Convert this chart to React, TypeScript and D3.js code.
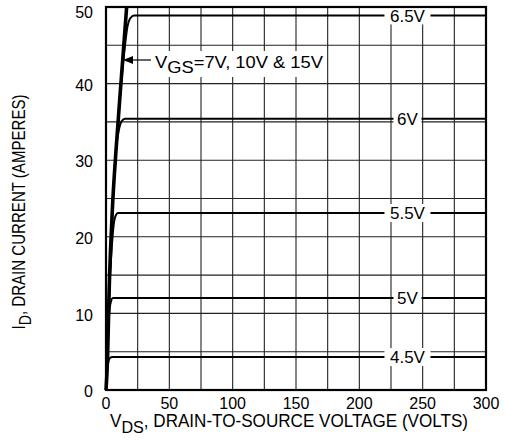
import React from "react";
import * as d3 from "d3";

// Axis ticks
const xTicks = [0, 50, 100, 150, 200, 250, 300];
const yTicks = [0, 10, 20, 30, 40, 50];
const xGrid = [25, 50, 75, 100, 125, 150, 175, 200, 225, 250, 275];
const yGrid = [5, 10, 15, 20, 25, 30, 35, 40, 45];

// Gate-voltage curves: V_DS (volts) and I_D (amperes)
const gateLabels = ["6.5V", "6V", "5.5V", "5V", "4.5V"];
const vds65 = [0, 2.5, 5, 8, 12, 15, 17, 19, 22, 300];
const id65 = [0, 13, 23.5, 31.5, 40, 45, 47.5, 48.5, 48.9, 48.9];
const vds6 = [0, 2.5, 5, 7.7, 10, 12.4, 15, 300];
const id6 = [0, 13, 23, 31, 33.8, 35.1, 35.4, 35.4];
const vds55 = [0, 2.5, 4.5, 6, 7.5, 9.5, 300];
const id55 = [0, 12.5, 18.5, 21.5, 22.7, 23.1, 23.1];
const vds5 = [0, 1.5, 2.8, 4, 5.5, 300];
const id5 = [0, 7, 10.5, 11.6, 12, 12];
const vds45 = [0, 1, 2, 3.2, 5, 300];
const id45 = [0, 2.5, 3.8, 4.2, 4.3, 4.3];

// Unsaturated line for V_GS = 7V, 10V & 15V
const vdsHigh = [0, 1.2, 2.5, 5, 8, 12, 16.3];
const idHigh = [0, 4, 13, 23.5, 31.5, 40.5, 50];

const labelVds = 238;

const W = 505;
const H = 441;

export default function App() {
  const x = d3.scaleLinear().domain([0, 300]).range([106, 486]);
  const y = d3.scaleLinear().domain([0, 50]).range([390, 7]);

  const line = d3
    .line<[number, number]>()
    .x((d) => x(d[0]))
    .y((d) => y(d[1]))
    .curve(d3.curveMonotoneX);

  const series = [
    { v: vds65, i: id65 },
    { v: vds6, i: id6 },
    { v: vds55, i: id55 },
    { v: vds5, i: id5 },
    { v: vds45, i: id45 },
  ];
  const pts = (v: number[], i: number[]) =>
    v.map((d, k) => [d, i[k]] as [number, number]);

  const font = "'Liberation Sans', Arial, Helvetica, sans-serif";
  const annY = 60;

  return (
    <svg
      width={W}
      height={H}
      style={{ position: "absolute", left: 0, top: 0, background: "#fff" }}
      fontFamily={font}
    >
      <rect x={0} y={0} width={W} height={H} fill="#fff" />
      {/* grid */}
      {xGrid.map((v) => (
        <line key={"gx" + v} x1={x(v)} x2={x(v)} y1={y(0)} y2={y(50)} stroke="#222" strokeWidth={1.1} />
      ))}
      {yGrid.map((v) => (
        <line key={"gy" + v} x1={x(0)} x2={x(300)} y1={y(v)} y2={y(v)} stroke="#222" strokeWidth={1.1} />
      ))}

      {/* saturating curves */}
      {series.map((s, k) => (
        <path key={"c" + k} d={line(pts(s.v, s.i)) || ""} fill="none" stroke="#000" strokeWidth={2} />
      ))}
      {/* high gate voltage line */}
      <path d={line(pts(vdsHigh, idHigh)) || ""} fill="none" stroke="#000" strokeWidth={3.6} />

      {/* curve labels */}
      {series.map((s, k) => {
        const cy = y(s.i[s.i.length - 1]);
        const cx = x(labelVds);
        const w = gateLabels[k].length * 9 + 10;
        return (
          <g key={"l" + k}>
            <rect x={cx - w / 2} y={cy - 9} width={w} height={18} fill="#fff" />
            <text x={cx} y={cy} dy="0.36em" textAnchor="middle" fontSize={17}>
              {gateLabels[k]}
            </text>
          </g>
        );
      })}

      {/* V_GS annotation */}
      <rect x={150} y={51} width={176} height={26} fill="#fff" />
      <line x1={131} x2={151} y1={annY} y2={annY} stroke="#000" strokeWidth={1.2} />
      <path d={`M123,${annY} L133,${annY - 4} L133,${annY + 4} Z`} fill="#000" />
      <text x={155} y={68} fontSize={17} textLength={168} lengthAdjust="spacingAndGlyphs">
        V<tspan fontSize={17} dy={5}>GS</tspan>
        <tspan dy={-5}>=7V, 10V &amp; 15V</tspan>
      </text>

      {/* frame */}
      <rect x={x(0)} y={y(50)} width={x(300) - x(0)} height={y(0) - y(50)} fill="none" stroke="#000" strokeWidth={2.2} />

      {/* tick labels */}
      {xTicks.map((v) => (
        <text key={"tx" + v} x={x(v)} y={409} textAnchor="middle" fontSize={16}>
          {v}
        </text>
      ))}
      {yTicks.map((v) => (
        <text key={"ty" + v} x={93} y={y(v) + (v === 50 ? 5 : 1.5)} dy="0.36em" textAnchor="end" fontSize={16}>
          {v}
        </text>
      ))}

      {/* axis titles */}
      <text x={110} y={427} fontSize={18} textLength={358} lengthAdjust="spacingAndGlyphs">
        V<tspan fontSize={17} dy={6}>DS</tspan>
        <tspan dy={-6}>, DRAIN-TO-SOURCE VOLTAGE (VOLTS)</tspan>
      </text>
      <text
        transform="translate(25,212) rotate(-90)"
        textAnchor="middle"
        fontSize={18}
        textLength={235}
        lengthAdjust="spacingAndGlyphs"
      >
        I<tspan fontSize={17} dy={6}>D</tspan>
        <tspan dy={-6}>, DRAIN CURRENT (AMPERES)</tspan>
      </text>

      {/* figure caption */}
      <text x={92} y={452.5} fontSize={16} fontWeight="bold" fill="#444" textLength={398} lengthAdjust="spacingAndGlyphs">
        FIGURE 1. TYPICAL OUTPUT CHARACTERISTICS
      </text>
    </svg>
  );
}
